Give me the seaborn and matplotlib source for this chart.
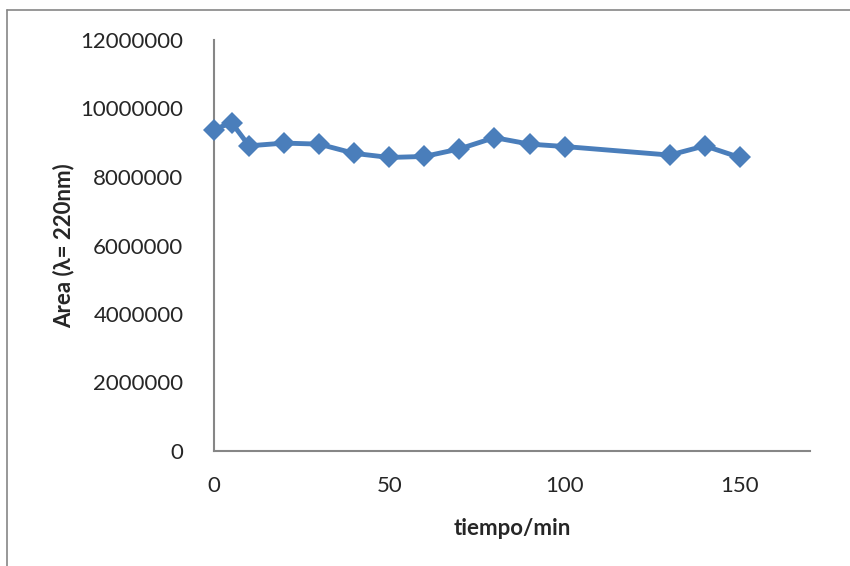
import numpy as np
import pandas as pd
import matplotlib
matplotlib.use("Agg")
import matplotlib.pyplot as plt
import seaborn as sns
from matplotlib.lines import Line2D

# tiempo (min) vs area at 220 nm
tiempo = [0, 5, 10, 20, 30, 40, 50, 60, 70, 80, 90, 100, 130, 140, 150]
area = [9380000, 9590000, 8910000, 8990000, 8960000, 8690000, 8570000, 8600000,
        8820000, 9150000, 8960000, 8890000, 8640000, 8910000, 8570000]
x_ticks = [0, 50, 100, 150]
y_ticks = [0, 2000000, 4000000, 6000000, 8000000, 10000000, 12000000]

sns.set_style("white")
plt.rcParams['font.family'] = ['Lato', 'DejaVu Sans']

df = pd.DataFrame({'tiempo': tiempo, 'area': area})

fig = plt.figure(figsize=(8.5, 5.66), dpi=100)
ax = fig.add_axes([214 / 850, 1 - 451 / 566, (810 - 214) / 850, (451 - 40) / 566])

sns.lineplot(data=df, x='tiempo', y='area', ax=ax, color='#4a7ebb',
             linewidth=3.5, marker='D', markersize=11, markeredgewidth=0,
             markerfacecolor='#4a7ebb', clip_on=False, zorder=5)

ax.set_xlim(0, 170)
ax.set_ylim(0, 12000000)
ax.set_xticks(x_ticks)
ax.set_yticks(y_ticks)
ax.set_xticklabels([str(t) for t in x_ticks], fontsize=16)
ax.set_yticklabels([str(t) for t in y_ticks], fontsize=16)
ax.tick_params(axis='x', length=0, pad=18)
ax.tick_params(axis='y', length=0, pad=22)

for side in ['top', 'right']:
    ax.spines[side].set_visible(False)
for side in ['left', 'bottom']:
    ax.spines[side].set_color('#868686')
    ax.spines[side].set_linewidth(1.5)

ax.set_xlabel('tiempo/min', fontsize=16, fontweight='bold', labelpad=16)
ax.set_ylabel('Area (λ= 220nm)', fontsize=16, fontweight='bold', labelpad=4)

# outer chart frame (cut by the image edges)
fig.add_artist(Line2D([7 / 850, 7 / 850], [0, 1 - 10 / 566], transform=fig.transFigure,
                      color='#868686', linewidth=1.2))
fig.add_artist(Line2D([7 / 850, 1], [1 - 10 / 566, 1 - 10 / 566], transform=fig.transFigure,
                      color='#868686', linewidth=1.2))

fig.savefig('out.png', dpi=100)
